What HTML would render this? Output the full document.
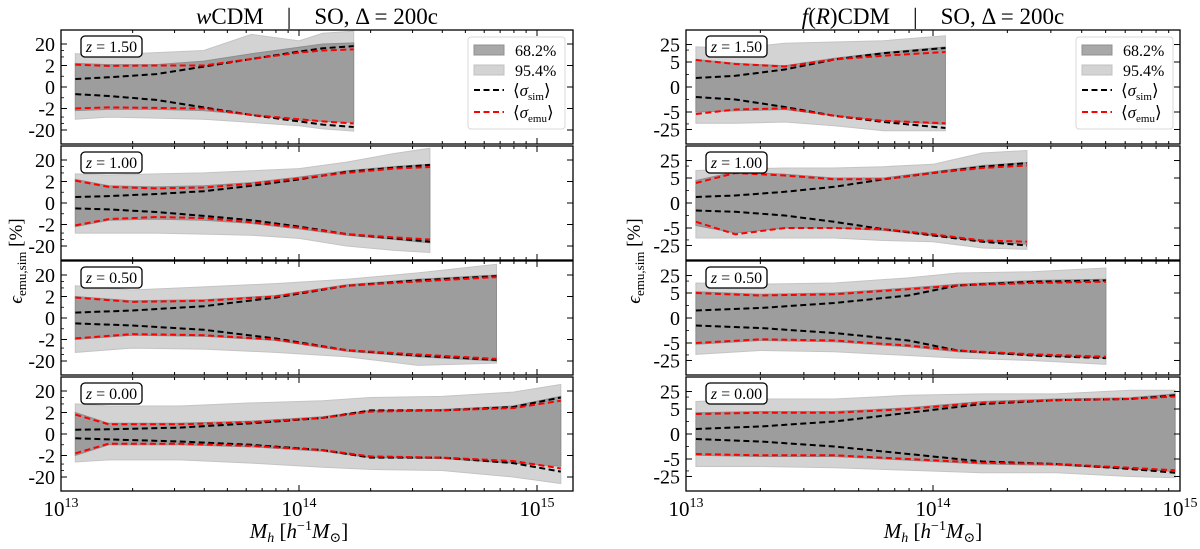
<!DOCTYPE html>
<html><head><meta charset="utf-8"><style>
html,body{margin:0;padding:0;background:#fff;}
svg{display:block;font-family:"Liberation Serif","DejaVu Serif",serif;}
</style></head><body>
<svg id="fig" width="1200" height="549" viewBox="0 0 1200 549" xmlns="http://www.w3.org/2000/svg">
<defs>
<clipPath id="clipL"><rect x="61" y="0" width="512" height="549"/></clipPath>
<clipPath id="clipR"><rect x="686" y="0" width="494" height="549"/></clipPath>
</defs>
<g id="root"></g>
<text xml:space="preserve" style="white-space:pre" x="317" y="24" font-size="23" text-anchor="middle"><tspan font-style="italic">w</tspan>CDM    |    SO, Δ = 200c</text>
<text xml:space="preserve" style="white-space:pre" x="933" y="24" font-size="23" text-anchor="middle"><tspan font-style="italic">f</tspan>(<tspan font-style="italic">R</tspan>)CDM    |    SO, Δ = 200c</text>
<text transform="translate(22,261) rotate(-90)" font-size="19" text-anchor="middle"><tspan font-style="italic">ϵ</tspan><tspan font-size="13" dy="4">emu,sim</tspan><tspan dy="-4"> [%]</tspan></text>
<text transform="translate(640,261) rotate(-90)" font-size="19" text-anchor="middle"><tspan font-style="italic">ϵ</tspan><tspan font-size="13" dy="4">emu,sim</tspan><tspan dy="-4"> [%]</tspan></text>
<text x="299" y="538" font-size="21" text-anchor="middle"><tspan font-style="italic">M</tspan><tspan font-style="italic" font-size="14" dy="4">h</tspan><tspan dy="-4">  [</tspan><tspan font-style="italic">h</tspan><tspan font-size="14" dy="-8">−1</tspan><tspan font-style="italic" dy="8">M</tspan><tspan font-size="14" dy="4">⊙</tspan><tspan dy="-4">]</tspan></text>
<text x="933" y="538" font-size="21" text-anchor="middle"><tspan font-style="italic">M</tspan><tspan font-style="italic" font-size="14" dy="4">h</tspan><tspan dy="-4">  [</tspan><tspan font-style="italic">h</tspan><tspan font-size="14" dy="-8">−1</tspan><tspan font-style="italic" dy="8">M</tspan><tspan font-size="14" dy="4">⊙</tspan><tspan dy="-4">]</tspan></text>
</svg>
<script>
// ---- data (percent) ----
const zLabels = ["1.50","1.00","0.50","0.00"];
const xTickLabels = ["13","14","15"];
const yTicksLeft = [20,2,0,-2,-20];
const yTicksRight = [25,5,0,-5,-25];
// wCDM
const wM0=[13.06,13.2,13.4,13.6,13.8,14.0,14.1,14.23];
const wUp95_0=[7.1,6.3,8,10,56,28,63,80];
const wUp68_0=[2.5,2.2,2.2,3.2,7.1,14.2,20,22.4];
const wSimUp_0=[0.74,0.9,1.2,1.9,4.0,8.9,12.6,15.9];
const wEmuUp_0=[2.2,1.96,2,2,4,8,10,11.2];
const wSimLo_0=[-0.66,-0.84,-1.2,-1.9,-4,-8,-11.2,-14.5];
const wEmuLo_0=[-2,-1.9,-1.94,-2,-4,-6.3,-8,-10];
const wLo68_0=[-2.5,-2.2,-2.2,-2.5,-4,-7.1,-8,-8.9];
const wLo95_0=[-6.3,-5,-5.6,-6.3,-8.9,-12.6,-17.8,-22.4];
const wM1=[13.06,13.2,13.4,13.6,13.8,14.0,14.2,14.4,14.55];
const wUp95_1=[4.5,4,4.5,5,6.3,8,15.9,40,71];
const wUp68_1=[2.5,1.6,1.5,1.6,1.9,3.2,6.3,10,12.6];
const wSimUp_1=[0.56,0.64,0.84,1.1,1.6,2.5,5.6,8.9,11.8];
const wEmuUp_1=[2.2,1.5,1.36,1.44,1.8,2.8,5,8,9.4];
const wSimLo_1=[-0.5,-0.6,-0.84,-1.2,-1.6,-2.5,-5.6,-8.9,-12.6];
const wEmuLo_1=[-2.2,-1.5,-1.3,-1.4,-1.8,-2.8,-5.6,-8,-10];
const wLo68_1=[-2.5,-1.6,-1.5,-1.6,-1.9,-3.2,-6.3,-10,-14.2];
const wLo95_1=[-5,-5,-5,-5.6,-6.3,-8.9,-20,-32,-40];
const wM2=[13.06,13.3,13.6,13.9,14.2,14.5,14.83];
const wUp95_2=[6.3,4,5.6,8,12.6,25,63];
const wUp68_2=[2,1.6,1.7,2.2,7.1,12.6,20];
const wSimUp_2=[0.5,0.7,1.1,1.9,6.3,11.2,17.8];
const wEmuUp_2=[1.9,1.5,1.6,2,6.3,10,15.9];
const wSimLo_2=[-0.5,-0.7,-1.1,-1.9,-6.3,-11.2,-17.8];
const wEmuLo_2=[-1.9,-1.5,-1.6,-2,-6.3,-10,-15.9];
const wLo68_2=[-2,-1.6,-1.7,-2.2,-7.1,-12.6,-20];
const wLo95_2=[-8,-5,-5.6,-8,-12.6,-32,-25];
const wM3=[13.06,13.2,13.5,13.8,14.1,14.3,14.6,14.9,15.1];
const wUp95_3=[5,4,4,5.6,7.1,10,11.2,17.8,40];
const wUp68_3=[2,1,1,1.2,1.6,2.5,2.8,4,11.2];
const wSimUp_3=[0.4,0.44,0.6,1,1.5,2.5,2.5,3.6,10];
const wEmuUp_3=[1.8,0.9,0.9,1.1,1.5,2.2,2.5,3.2,7.1];
const wSimLo_3=[-0.4,-0.5,-0.7,-1,-1.5,-2.5,-2.5,-4.5,-11.2];
const wEmuLo_3=[-1.8,-0.9,-0.9,-1.1,-1.5,-2.2,-2.5,-3.6,-8];
const wLo68_3=[-2,-1,-1,-1.2,-1.6,-2.5,-2.8,-4.5,-6.3];
const wLo95_3=[-4,-3.2,-3.2,-4.5,-7.1,-8.9,-10,-20,-40];
// f(R)CDM
const fM0=[13.04,13.2,13.4,13.6,13.8,14.05];
const fUp95_0=[20,17.7,28,31.5,35.4,56];
const fUp68_0=[6.3,4.75,4.25,7.1,12,20];
const fSimUp_0=[1.8,2.25,3.5,6.3,11.2,18.2];
const fEmuUp_0=[6,4.6,4.1,6.3,8.9,12.6];
const fSimLo_0=[-2,-2.5,-4,-7.1,-12.6,-21.8];
const fEmuLo_0=[-6,-4.5,-4.25,-7.1,-11.2,-14.1];
const fLo68_0=[-5,-4.75,-4.5,-7.1,-11.2,-15.8];
const fLo95_0=[-14.1,-14.1,-12.6,-17.7,-28,-28];
const fM1=[13.04,13.2,13.4,13.6,13.8,14.0,14.2,14.38];
const fUp95_1=[10,11.2,12.6,12.6,14.1,17.7,50,63];
const fUp68_1=[4.5,8.9,7.1,5,5,8.9,15.8,20.8];
const fSimUp_1=[1.2,1.5,2.25,3.25,4.75,7.9,14.1,19.9];
const fEmuUp_1=[4,7.9,6.3,4.75,4.75,7.9,12.6,15.8];
const fSimLo_1=[-1.5,-1.75,-2.5,-3.75,-5.6,-10,-17.7,-25];
const fEmuLo_1=[-3.75,-8.9,-5,-5,-5.6,-8.9,-15.8,-17.7];
const fLo68_1=[-4.5,-7.9,-5,-5,-6.3,-10,-17.7,-22.3];
const fLo95_1=[-12.6,-12.6,-12.6,-12.6,-15.8,-17.7,-31.5,-35.4];
const fM2=[13.04,13.3,13.6,13.9,14.1,14.4,14.7];
const fUp95_2=[12.6,11.2,12.6,20,31.5,35.4,50];
const fUp68_2=[5.6,4.75,5,7.9,11.2,15.8,17.7];
const fSimUp_2=[1.5,2,3,4.5,10,14.1,15.8];
const fEmuUp_2=[5,4.5,4.75,7.1,10,12.6,14.1];
const fSimLo_2=[-1.5,-2,-3,-4.5,-10,-15.8,-20];
const fEmuLo_2=[-5,-4.25,-4.5,-6.3,-10,-14.1,-17.7];
const fLo68_2=[-5.6,-4.5,-4.75,-7.1,-11.2,-15.8,-20];
const fLo95_2=[-14.1,-10,-11.2,-15.8,-20,-25,-35.4];
const fM3=[13.04,13.3,13.6,13.9,14.2,14.5,14.8,14.98];
const fUp95_3=[10,12.6,12.6,17.7,20,20,28,28];
const fUp68_3=[4.25,4.5,4.5,5.6,10,12.6,14.1,20];
const fSimUp_3=[1,1.5,2.5,4.25,7.9,11.2,12.6,17.7];
const fEmuUp_3=[4,4.25,4.25,5,8.9,11.2,12.6,15.8];
const fSimLo_3=[-1,-1.5,-2.5,-4,-6.3,-7.9,-12.6,-17.7];
const fEmuLo_3=[-4,-4.25,-4.25,-5,-7.1,-7.9,-11.2,-14.1];
const fLo68_3=[-4.25,-4.5,-4.5,-5.6,-7.9,-8.9,-12.6,-15.8];
const fLo95_3=[-10,-10,-11.2,-14.1,-17.7,-17.7,-25,-28];

const NS="http://www.w3.org/2000/svg";
const root=document.getElementById('root');
function mk(tag,attrs,parent){const e=document.createElementNS(NS,tag);for(const k in attrs)e.setAttribute(k,attrs[k]);(parent||root).appendChild(e);return e;}

const cols=[
 {x0:61,x1:573,dec:238,L:2,unit:21.5,ticks:yTicksLeft,minor:[10,5,1,-1,-5,-10],clip:'clipL',name:'wcdm',
  M:[wM0,wM1,wM2,wM3],u95:[wUp95_0,wUp95_1,wUp95_2,wUp95_3],u68:[wUp68_0,wUp68_1,wUp68_2,wUp68_3],
  su:[wSimUp_0,wSimUp_1,wSimUp_2,wSimUp_3],eu:[wEmuUp_0,wEmuUp_1,wEmuUp_2,wEmuUp_3],
  sl:[wSimLo_0,wSimLo_1,wSimLo_2,wSimLo_3],el:[wEmuLo_0,wEmuLo_1,wEmuLo_2,wEmuLo_3],
  l68:[wLo68_0,wLo68_1,wLo68_2,wLo68_3],l95:[wLo95_0,wLo95_1,wLo95_2,wLo95_3],legX:468},
 {x0:686,x1:1180,dec:247,L:5,unit:25,ticks:yTicksRight,minor:[15,2.5,-2.5,-15],clip:'clipR',name:'frcdm',
  M:[fM0,fM1,fM2,fM3],u95:[fUp95_0,fUp95_1,fUp95_2,fUp95_3],u68:[fUp68_0,fUp68_1,fUp68_2,fUp68_3],
  su:[fSimUp_0,fSimUp_1,fSimUp_2,fSimUp_3],eu:[fEmuUp_0,fEmuUp_1,fEmuUp_2,fEmuUp_3],
  sl:[fSimLo_0,fSimLo_1,fSimLo_2,fSimLo_3],el:[fEmuLo_0,fEmuLo_1,fEmuLo_2,fEmuLo_3],
  l68:[fLo68_0,fLo68_1,fLo68_2,fLo68_3],l95:[fLo95_0,fLo95_1,fLo95_2,fLo95_3],legX:1076}
];
const tops=[30,146,261,377], H=114;

cols.forEach(c=>{
  const xs=m=>c.x0+(m-13)*c.dec;
  tops.forEach((top,i)=>{
    const yc=top+H/2;
    const ys=v=>{const a=Math.abs(v);const u=a<=c.L?a/c.L:1+Math.log10(a/c.L);return yc-Math.sign(v)*u*c.unit;};
    const g=mk('g',{'clip-path':'url(#'+c.clip+')'});
    
    
    const M=c.M[i];
    const band=(up,lo,fill,nm)=>{
      let d='M'+M.map((m,k)=>xs(m).toFixed(1)+','+ys(up[k]).toFixed(1)).join('L');
      for(let k=M.length-1;k>=0;k--)d+='L'+xs(M[k]).toFixed(1)+','+ys(lo[k]).toFixed(1);
      const p=mk('path',{d:d+'Z',fill:fill,stroke:fill==='#d3d3d3'?'#c4c4c4':'#8e8e8e','stroke-width':1},g);
      
      
    };
    band(c.u95[i],c.l95[i],'#d3d3d3','band-95');
    band(c.u68[i],c.l68[i],'#9d9d9d','band-68');
    const line=(arr,col,nm)=>{
      const p=mk('polyline',{points:M.map((m,k)=>xs(m).toFixed(1)+','+ys(arr[k]).toFixed(1)).join(' '),fill:'none',stroke:col,'stroke-width':2,'stroke-dasharray':'6,3.5'},g);
      
      
    };
    line(c.su[i],'#000','sigma-sim-upper');
    line(c.sl[i],'#000','sigma-sim-lower');
    line(c.eu[i],'#f00','sigma-emu-upper');
    line(c.el[i],'#f00','sigma-emu-lower');
    const fr=mk('rect',{x:c.x0,y:top,width:c.x1-c.x0,height:H,fill:'none',stroke:'#000','stroke-width':1.3});
    
    
    c.ticks.forEach(t=>{
      const y=ys(t);
      mk('line',{x1:c.x0,x2:c.x0+6,y1:y,y2:y,stroke:'#000','stroke-width':1});
      mk('line',{x1:c.x1,x2:c.x1-6,y1:y,y2:y,stroke:'#000','stroke-width':1});
      const tx=mk('text',{x:c.x0-6,y:y+7,'font-size':20,'text-anchor':'end'});
      
      
      tx.textContent=t<0?'-'+Math.abs(t):String(t);
    });
    c.minor.forEach(t=>{const y=ys(t);mk('line',{x1:c.x0,x2:c.x0+3,y1:y,y2:y,stroke:'#000','stroke-width':0.8});});
    for(let e=13;e<=15;e++){
      for(let k=1;k<10;k++){
        const x=xs(e+Math.log10(k));
        if(x<c.x0-0.5||x>c.x1+0.5)continue;
        const len=k===1?6:3;
        mk('line',{x1:x,x2:x,y1:top,y2:top+len,stroke:'#000','stroke-width':1});
        mk('line',{x1:x,x2:x,y1:top+H,y2:top+H-len,stroke:'#000','stroke-width':1});
      }
    }
    const lx=c.x0+20, ly=top+6;
    const zb=mk('rect',{x:lx,y:ly,width:61,height:21,rx:4,fill:'#fff',stroke:'#000','stroke-width':1.3});
    
    
    const zt=mk('text',{x:lx+30.5,y:ly+16,'font-size':16,'text-anchor':'middle'});
    
    
    zt.innerHTML='<tspan font-style="italic">z</tspan> = '+zLabels[i];
  });
  xTickLabels.forEach(l=>{
    const x=xs(+l);
    const t=mk('text',{x:x,y:516,'font-size':21,'text-anchor':'middle'});
    
    
    t.innerHTML='10<tspan font-size="14" dy="-9">'+l+'</tspan>';
  });
  const g=mk('g',{});
  
  
  const L=c.legX, T=37;
  mk('rect',{x:L,y:T,width:97,height:92,rx:3,fill:'#fff',stroke:'#d8d8d8','stroke-width':1},g);
  const it=[['68.2%','#a8a8a8','#909090'],['95.4%','#d3d3d3','#c0c0c0']];
  it.forEach((a,k)=>{
    const y=T+8+k*20;
    mk('rect',{x:L+6,y:y,width:30,height:10,fill:a[1],stroke:a[2],'stroke-width':1},g);
    const t=mk('text',{x:L+47,y:y+11,'font-size':16},g);
    
    
    t.textContent=a[0];
  });
  [['sim','#000'],['emu','#f00']].forEach((a,k)=>{
    const y=T+53+k*22;
    mk('line',{x1:L+6,x2:L+36,y1:y,y2:y,stroke:a[1],'stroke-width':2,'stroke-dasharray':'6,3.5'},g);
    const t=mk('text',{x:L+45,y:y+6,'font-size':17},g);
    
    
    t.innerHTML='⟨<tspan font-style="italic">σ</tspan><tspan font-size="11" dy="4">'+a[0]+'</tspan><tspan dy="-4">⟩</tspan>';
  });
});
</script>
</body></html>
